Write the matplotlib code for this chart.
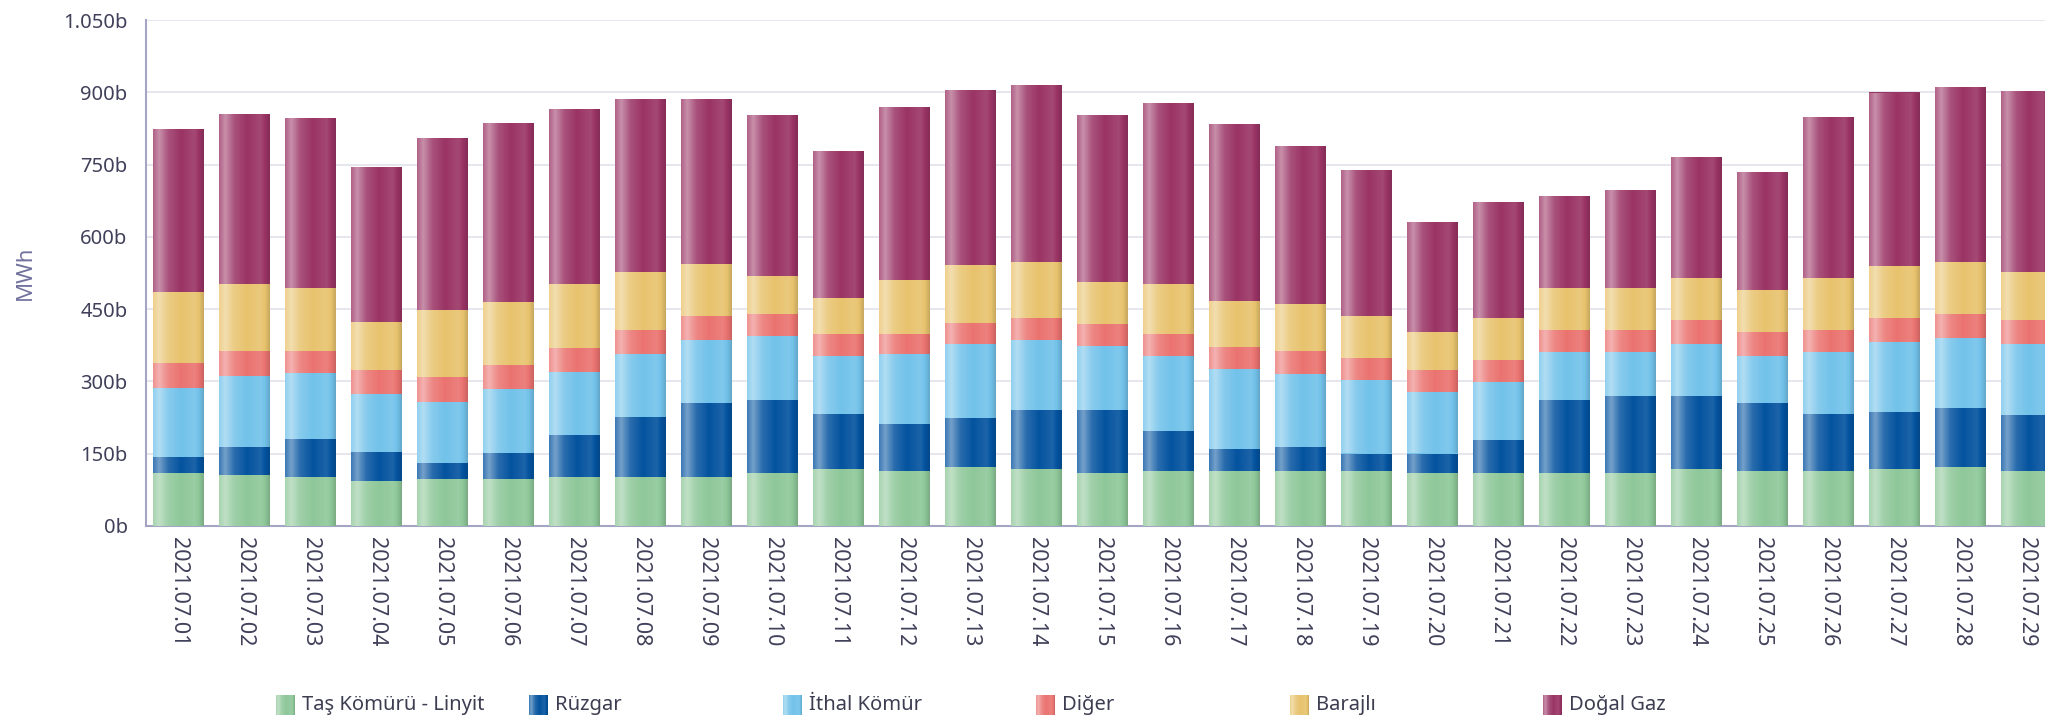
import numpy as np
import matplotlib
matplotlib.use("Agg")
import matplotlib.pyplot as plt
from matplotlib.colors import to_rgb
from matplotlib.ticker import FuncFormatter

plt.rcParams['font.family'] = ['Noto Sans', 'DejaVu Sans']

# daily generation by source, thousand MWh ("b" = bin)
dates = ["2021.07.%02d" % d for d in range(1, 30)]

tas_komur = [109, 105, 101, 92, 97, 97, 101, 101, 101, 109,
             117, 113, 121, 117, 109, 113, 113, 113, 113, 109,
             109, 109, 109, 117, 113, 113, 117, 121, 113]
ruzgar = [33, 58, 79, 62, 33, 54, 87, 124, 153, 153,
          116, 99, 103, 124, 132, 83, 46, 50, 37, 41,
          70, 153, 161, 153, 141, 120, 120, 124, 116]
ithal_komur = [145, 149, 137, 120, 128, 132, 132, 132, 132, 132,
               120, 145, 153, 145, 132, 157, 166, 153, 153, 128,
               120, 99, 91, 108, 99, 128, 145, 145, 149]
diger = [50, 50, 45, 50, 50, 50, 50, 50, 50, 46,
         46, 41, 45, 46, 46, 46, 46, 46, 46, 46,
         46, 46, 46, 50, 50, 46, 50, 50, 50]
barajli = [149, 141, 132, 99, 141, 132, 132, 120, 108, 79,
           74, 112, 120, 116, 87, 103, 95, 99, 87, 79,
           87, 87, 87, 87, 87, 108, 108, 108, 99]
dogal_gaz = [339, 352, 352, 323, 356, 372, 364, 360, 343, 335,
             306, 360, 364, 368, 348, 377, 368, 327, 302, 228,
             240, 190, 203, 252, 244, 335, 360, 364, 377]

series = [
    ("Taş Kömürü - Linyit", tas_komur, "#8ec799"),
    ("Rüzgar", ruzgar, "#04539f"),
    ("İthal Kömür", ithal_komur, "#72c2ea"),
    ("Diğer", diger, "#ea7370"),
    ("Barajlı", barajli, "#e8c36e"),
    ("Doğal Gaz", dogal_gaz, "#9a3465"),
]


def shade(color):
    # horizontal "cylinder" gradient like the original bars
    base = np.array(to_rgb(color))
    pos = [0, 0.12, 0.3, 0.55, 0.82, 0.9, 1.0]
    mix = [0.22, 0.45, 0.15, 0.0, 0.1, 0.0, -0.14]
    xs = np.linspace(0, 1, 120)
    m = np.interp(xs, pos, mix)
    cols = []
    for v in m:
        if v >= 0:
            cols.append(base + (1 - base) * v)
        else:
            cols.append(base * (1 + v))
    return np.array(cols)[None, :, :]


W, H = 2045, 723
fig = plt.figure(figsize=(W / 100, H / 100), dpi=100)
left, right_px, top, bottom = 145.7, 145.7 + 31 * 66, 20.3, 525.7
ax = fig.add_axes([left / W, 1 - bottom / H, (right_px - left) / W, (bottom - top) / H])

x = np.arange(len(dates))
base_y = np.zeros(len(dates))
for name, vals, col in series:
    grad = shade(col)
    bars = ax.bar(x, vals, width=0.77, bottom=base_y, color=col, linewidth=0, zorder=2)
    for r in bars:
        im = ax.imshow(grad, extent=[r.get_x(), r.get_x() + r.get_width(), r.get_y(), r.get_y() + r.get_height()],
                       aspect='auto', interpolation='bilinear', zorder=3)
        im.set_clip_path(r)
    base_y = base_y + np.array(vals)

ax.set_xlim(-0.5, 30.5)
ax.set_ylim(0, 1050)
ax.set_yticks(np.arange(0, 1051, 150))
ax.yaxis.set_major_formatter(FuncFormatter(lambda v, p: f"{int(v):,}".replace(",", ".") + "b"))
ax.set_xticks(x)
ax.set_xticklabels(dates, rotation=270)
ax.tick_params(axis='y', length=0, pad=13, labelsize=14.5, labelcolor="#40405a")
ax.tick_params(axis='x', length=0, pad=8, labelsize=15.5, labelcolor="#40405a")
ax.grid(axis='y', color="#e4e4ee", linewidth=1.3, zorder=0)
ax.set_axisbelow(True)
for s in ("top", "right"):
    ax.spines[s].set_visible(False)
ax.spines["left"].set_color("#a4a4c4")
ax.spines["left"].set_linewidth(1.5)
ax.spines["bottom"].set_color("#a4a4c4")
ax.spines["bottom"].set_linewidth(1.5)
ax.set_ylabel("MWh", fontsize=16, color="#72729e")
ax.yaxis.set_label_coords((36 - left) / (right_px - left), 0.5)

# legend row, equally spaced items as in the source chart
lax = fig.add_axes([0, 0, 1, 1])
lax.set_xlim(0, W)
lax.set_ylim(H, 0)
lax.axis("off")
for i, (name, vals, col) in enumerate(series):
    x0 = 276 + i * 253.5
    lax.imshow(shade(col), extent=[x0, x0 + 19, 715, 695], aspect='auto', interpolation='bilinear')
    lax.text(x0 + 26, 705, name, fontsize=14.5, color="#3d3d52", va="center", ha="left")
lax.set_xlim(0, W)
lax.set_ylim(H, 0)

fig.savefig("out.png", dpi=100)
